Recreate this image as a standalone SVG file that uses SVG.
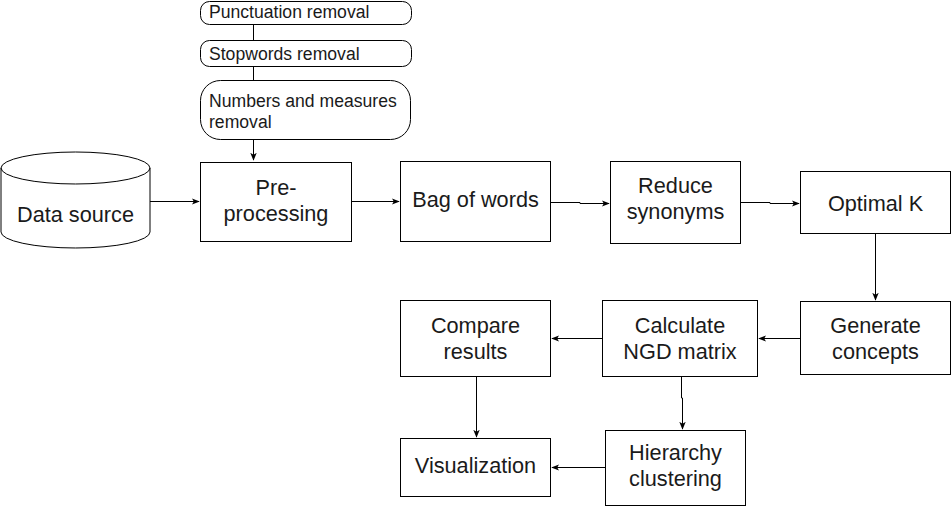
<svg xmlns="http://www.w3.org/2000/svg" width="951" height="507" viewBox="0 0 951 507">
<defs>
<marker id="arr" viewBox="0 0 10 10" refX="9" refY="5" markerWidth="8" markerHeight="8" markerUnits="userSpaceOnUse" orient="auto">
<path d="M0,1 L10,5 L0,9 L2.5,5 Z" fill="#000"/>
</marker>
<style>
.box{fill:#fff;stroke:#000;stroke-width:1}
.t{font-family:"Liberation Sans",Arial,sans-serif;font-size:21.7px;fill:#1a1a1a;text-anchor:middle}
.s{font-family:"Liberation Sans",Arial,sans-serif;font-size:17.6px;fill:#1a1a1a}
.c{fill:none;stroke:#000;stroke-width:1}
.a{marker-end:url(#arr)}
</style>
</defs>
<rect width="951" height="507" fill="#fff"/>
<g id="connectors">
<path class="c" d="M253.5,25 V40"/>
<path class="c" d="M253.5,67 V80"/>
<path class="c a" d="M253.5,140 V160"/>
<path class="c a" d="M150,201.5 H199"/>
<path class="c a" d="M352,201.5 H399"/>
<path class="c a" d="M551,202.5 H580 V203.5 H609"/>
<path class="c a" d="M741,202.5 H770 V203.5 H799"/>
<path class="c a" d="M875.5,233 V300"/>
<path class="c a" d="M800,338.5 H759"/>
<path class="c a" d="M602,338.5 H552"/>
<path class="c a" d="M476.5,376 V437"/>
<path class="c a" d="M681.5,376 V398 H682.5 V429"/>
<path class="c a" d="M605,467.5 H552"/>
</g>
<g id="punct">
<rect class="box" x="200.5" y="1.5" width="211" height="23" rx="9"/>
<text class="s" x="209" y="18">Punctuation removal</text>
</g>
<g id="stopwords">
<rect class="box" x="200.5" y="40.5" width="211" height="26" rx="9"/>
<text class="s" x="209" y="60">Stopwords removal</text>
</g>
<g id="numbers">
<rect class="box" x="200.5" y="80.5" width="210" height="59" rx="20"/>
<text class="s" x="209" y="107">Numbers and measures</text>
<text class="s" x="209" y="128">removal</text>
</g>
<g id="datasource">
<path class="box" d="M1,168 A74.5,16 0 0 1 150,168 V232 A74.5,16 0 0 1 1,232 Z"/>
<path class="c" d="M1,168 A74.5,16 0 0 0 150,168"/>
<text class="t" x="75.5" y="222">Data source</text>
</g>
<g id="preprocessing">
<rect class="box" x="200.5" y="162.5" width="151" height="79"/>
<text class="t" x="276" y="195">Pre-</text>
<text class="t" x="276" y="221">processing</text>
</g>
<g id="bagofwords">
<rect class="box" x="400.5" y="161.5" width="150" height="80"/>
<text class="t" x="475.5" y="207">Bag of words</text>
</g>
<g id="reduce">
<rect class="box" x="610.5" y="161.5" width="130" height="82"/>
<text class="t" x="675.5" y="193">Reduce</text>
<text class="t" x="675.5" y="219">synonyms</text>
</g>
<g id="optimalk">
<rect class="box" x="800.5" y="171.5" width="150" height="62"/>
<text class="t" x="875.5" y="211">Optimal K</text>
</g>
<g id="generate">
<rect class="box" x="800.5" y="301.5" width="150" height="73"/>
<text class="t" x="875.5" y="333">Generate</text>
<text class="t" x="875.5" y="359">concepts</text>
</g>
<g id="calculate">
<rect class="box" x="602.5" y="300.5" width="155" height="76"/>
<text class="t" x="680" y="333">Calculate</text>
<text class="t" x="680" y="359">NGD matrix</text>
</g>
<g id="compare">
<rect class="box" x="400.5" y="300.5" width="150" height="76"/>
<text class="t" x="475.5" y="333">Compare</text>
<text class="t" x="475.5" y="359">results</text>
</g>
<g id="visualization">
<rect class="box" x="400.5" y="438.5" width="150" height="58"/>
<text class="t" x="475.5" y="473">Visualization</text>
</g>
<g id="hierarchy">
<rect class="box" x="605.5" y="430.5" width="140" height="75"/>
<text class="t" x="675.5" y="460">Hierarchy</text>
<text class="t" x="675.5" y="486">clustering</text>
</g>
</svg>
